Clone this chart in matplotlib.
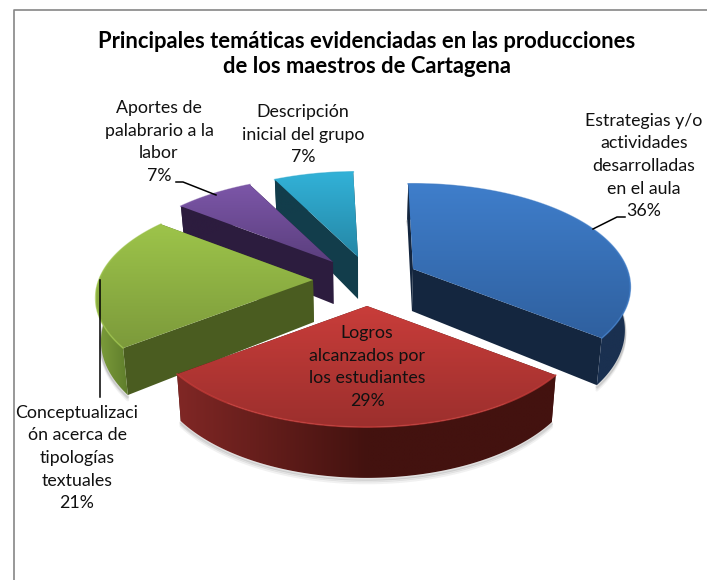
import numpy as np
import matplotlib
matplotlib.use('Agg')
import matplotlib.pyplot as plt
from matplotlib.colors import LinearSegmentedColormap
from matplotlib.patches import Polygon

plt.rcParams['font.family'] = ['Lato', 'DejaVu Sans']

title = 'Principales temáticas evidenciadas en las producciones\nde los maestros de Cartagena'
names = ['Estrategias y/o\nactividades\ndesarrolladas\nen el aula',
         'Logros\nalcanzados por\nlos estudiantes',
         'Conceptualizaci\nón acerca de\ntipologías\ntextuales',
         'Aportes de\npalabrario a la\nlabor',
         'Descripción\ninicial del grupo']
values = [36, 29, 21, 7, 7]

# look of each slice: top face light/dark, cut face, rim left/right
top_hi = ['#3f7ecb', '#c93d3a', '#9dc44a', '#7c56a8', '#32b2d8']
top_lo = ['#2f609f', '#9c2f2d', '#7c9a3b', '#5b3f7e', '#2587a6']
cut_col = ['#14263f', '#45130f', '#4a5c20', '#2c1c3e', '#123d4b']
rim_l = ['#14263f', '#802725', '#7f9f3c', '#2c1c3e', '#123d4b']
rim_r = ['#1a3050', '#43120f', '#5c7a2a', '#2c1c3e', '#123d4b']

# layout in pixels
apex_x = [413, 367, 313, 333, 358]
apex_y = [269, 306, 280, 262, 257]
label_x = [644, 367, 77, 159, 303]
label_y = [166, 367, 458, 142, 135]
rx, ry, persp, depth = 214, 100, 0.174, 42
start = -1.5

fig = plt.figure(figsize=(7.07, 5.8), dpi=100)
ax = fig.add_axes([0, 0, 1, 1])
ax.axis('off')


def ring(t):
    u, v = np.sin(t), -np.cos(t)
    w = 1 / (1 - persp * v)
    return rx * u * w, ry * v * w, w


def grad(pts, cols, horizontal, z):
    pts = np.array(pts)
    cm = LinearSegmentedColormap.from_list('g', cols)
    img = np.linspace(0, 1, 128).reshape(1, -1) if horizontal else np.linspace(0, 1, 128).reshape(-1, 1)
    ext = [pts[:, 0].min(), pts[:, 0].max(), pts[:, 1].max(), pts[:, 1].min()]
    im = ax.imshow(img, cmap=cm, extent=ext, aspect='auto', zorder=z, interpolation='bilinear')
    im.set_clip_path(Polygon(pts, transform=ax.transData))


def drop(x, y):
    # bottom edge of the disc sits a bit closer to the middle
    return 360 + (x - 360) * 0.98, y


order = [4, 3, 2, 0, 1]
edges = np.radians(np.cumsum([0] + values) * 3.6 + start)
for n, i in enumerate(order):
    z = 10 + n * 10
    t = np.linspace(edges[i], edges[i + 1], 120)
    dx, dy, w = ring(t)
    ax_, ay_ = apex_x[i], apex_y[i]
    xs, ys = ax_ + dx, ay_ + dy
    bx, by = drop(xs, ys + depth * w)
    abx, aby = drop(ax_, ay_ + depth)

    # shadow below the slice
    for off, al in zip([5, 3, 1.5], [0.08, 0.12, 0.18]):
        ax.plot(bx, by + off, color='#555555', alpha=al, lw=2, zorder=z - 1, solid_capstyle='round')

    # cut faces
    ax.add_patch(Polygon([(ax_, ay_), (xs[0], ys[0]), (bx[0], by[0]), (abx, aby)],
                         fc=cut_col[i], ec='none', zorder=z))
    ax.add_patch(Polygon([(ax_, ay_), (xs[-1], ys[-1]), (bx[-1], by[-1]), (abx, aby)],
                         fc=cut_col[i], ec='none', zorder=z))
    # outer rim
    rim = list(zip(xs, ys)) + list(zip(bx[::-1], by[::-1]))
    grad(rim, [rim_l[i], rim_r[i], rim_r[i]], True, z + 1)
    # top face
    face = [(ax_, ay_)] + list(zip(xs, ys))
    grad(face, [top_hi[i], top_lo[i]], False, z + 2)
    ax.plot(xs, ys, color=top_hi[i], lw=1.2, alpha=0.7, zorder=z + 3)

ax.set_xlim(0, 707)
ax.set_ylim(580, 0)

# chart frame
ax.plot([14, 14, 707], [580, 10, 10], color='#868686', lw=1.2, zorder=1)

# leader lines
lead_x = [[176, 183, 216], [100, 100], [593, 617, 625]]
lead_y = [[182, 182, 195], [280, 397], [229, 217, 217]]
for lx, ly in zip(lead_x, lead_y):
    ax.plot(lx, ly, color='black', lw=1.1, zorder=80)

ax.text(367, 54, title, ha='center', va='center', fontsize=15.8, fontweight='bold',
        color='black', linespacing=1.27, zorder=90)
for name, val, x, y in zip(names, values, label_x, label_y):
    ax.text(x, y, name + '\n%d%%' % val, ha='center', va='center', fontsize=12.8,
            color='#111111', linespacing=1.5, zorder=90)

fig.savefig('out.png', dpi=100)
